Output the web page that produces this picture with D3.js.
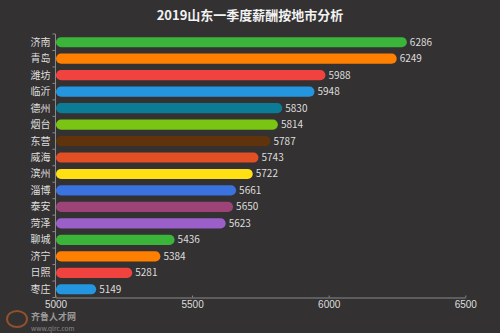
<!DOCTYPE html>
<html lang="zh">
<head>
    <meta charset="UTF-8">
    <title>2019山东一季度薪酬按地市分析</title>
    <script src="https://cdn.jsdelivr.net/npm/d3@7"></script>
    <style>
        * { box-sizing: border-box; }
        body { margin: 0; background: #333131; }
        svg { display: block; font-family: 'Noto Sans CJK SC', 'Noto Sans', sans-serif; }
        .axis path, .axis line { stroke: #8a8a8a; fill: none; }
        .axis text { fill: #dedede; font-size: 10px; }
        .val { fill: #dedede; font-size: 10px; }
    </style>
</head>
<body>
<svg id="chart" width="500" height="333"></svg>
<script>
    // data
    var cities = ['济南', '青岛', '潍坊', '临沂', '德州', '烟台', '东营', '威海', '滨州', '淄博', '泰安', '菏泽', '聊城', '济宁', '日照', '枣庄'];
    var salary = [6286, 6249, 5988, 5948, 5830, 5814, 5787, 5743, 5722, 5661, 5650, 5623, 5436, 5384, 5281, 5149];
    var xTicks = [5000, 5500, 6000, 6500];
    var palette = ['#3ab53a', '#ff8000', '#f0433f', '#2496e0', '#0c7c96', '#7ac414',
                   '#5f330c', '#e34f24', '#ffe015', '#3a73e0', '#9c4378', '#9a5fc9'];

    var svg = d3.select('#chart');
    var plotL = 55.5, plotR = 465.3, plotT = 34, plotB = 297.5;

    var x = d3.scaleLinear().domain([5000, 6500]).range([plotL, plotR]);
    var y = d3.scaleBand().domain(cities).range([plotT, plotB]).paddingInner(0.38).paddingOuter(0.19);

    svg.append('text')
        .attr('x', 250).attr('y', 20)
        .attr('text-anchor', 'middle')
        .attr('fill', '#f2f2f2')
        .attr('font-size', 13).attr('font-weight', 'bold')
        .text('2019山东一季度薪酬按地市分析');

    // bars, fully rounded ends
    svg.append('g').selectAll('rect')
        .data(cities)
        .join('rect')
        .attr('x', x(5000) + 0.5)
        .attr('y', d => y(d))
        .attr('width', (d, i) => x(salary[i]) - x(5000) - 0.5)
        .attr('height', y.bandwidth())
        .attr('rx', y.bandwidth() / 2)
        .attr('fill', (d, i) => palette[i % palette.length]);

    svg.append('g').selectAll('text')
        .data(cities)
        .join('text')
        .attr('class', 'val')
        .attr('x', (d, i) => x(salary[i]) + 3)
        .attr('y', d => y(d) + y.bandwidth() / 2)
        .attr('dy', '0.35em')
        .text((d, i) => salary[i]);

    // y axis: ticks on band edges
    var yAxis = svg.append('g').attr('class', 'axis').attr('transform', 'translate(' + plotL + ',0)');
    yAxis.append('path').attr('d', 'M0,' + plotT + 'V' + plotB);
    var edges = d3.range(cities.length + 1).map(i => plotT + i * y.step());
    yAxis.selectAll('line').data(edges).join('line')
        .attr('x1', -3).attr('x2', 0).attr('y1', d => d).attr('y2', d => d);
    yAxis.selectAll('text').data(cities).join('text')
        .attr('x', -5)
        .attr('y', d => y(d) + y.bandwidth() / 2)
        .attr('dy', '0.35em')
        .attr('text-anchor', 'end')
        .text(d => d);

    svg.append('g')
        .attr('class', 'axis')
        .attr('transform', 'translate(0,' + plotB + ')')
        .call(d3.axisBottom(x).tickValues(xTicks).tickFormat(d3.format('d')).tickSize(-2).tickSizeOuter(0).tickPadding(3))
        .call(g => g.selectAll('text').attr('dy', '0.75em'));

    // watermark
    var wm = svg.append('g').attr('transform', 'translate(6,318)');
    wm.append('ellipse').attr('cx', 11).attr('cy', 1).attr('rx', 10).attr('ry', 8)
        .attr('fill', 'none').attr('stroke', '#a85a2a').attr('stroke-width', 2).attr('opacity', 0.8);
    wm.append('text').attr('x', 25).attr('y', 2).attr('fill', '#9a9a9a')
        .attr('font-size', 9).attr('font-weight', 'bold').text('齐鲁人才网');
    wm.append('text').attr('x', 25).attr('y', 12.5).attr('fill', '#8a8a8a')
        .attr('font-size', 6.5).text('www.qlrc.com');
</script>
</body>
</html>
